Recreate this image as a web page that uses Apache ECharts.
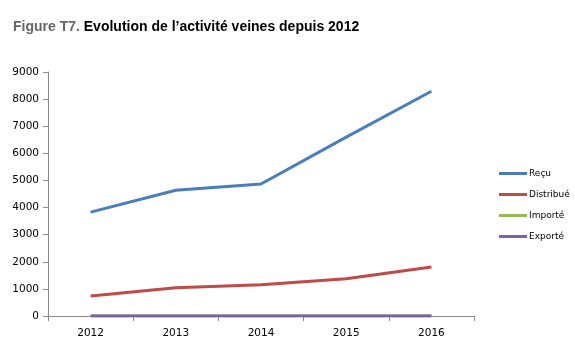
<!DOCTYPE html>
<html>
<head>
<meta charset="utf-8">
<script src="https://cdn.jsdelivr.net/npm/echarts@6/dist/echarts.min.js"></script>
<style>
  html, body { margin: 0; padding: 0; background: #fff; }
  #chart { width: 575px; height: 350px; }
</style>
</head>
<body>
<div id="chart"></div>
<script>
// données
var years = ['2012', '2013', '2014', '2015', '2016'];
var recu = [3830, 4640, 4870, 6600, 8290];
var distribue = [740, 1040, 1150, 1370, 1810];
var importe = [0, 0, 0, 0, 0];
var exporte = [0, 0, 0, 0, 0];

var chart = echarts.init(document.getElementById('chart'));

function serie(name, data, color) {
  return {
    name: name, type: 'line', data: data, symbol: 'none',
    lineStyle: { color: color, width: 3 }, itemStyle: { color: color }
  };
}

chart.setOption({
  animation: false,
  title: {
    text: '{g|Figure T7.} Evolution de l\u2019activité veines depuis 2012',
    left: 13, top: 20, padding: 0,
    textStyle: {
      fontFamily: 'Liberation Sans', fontSize: 14, fontWeight: 'bold', color: '#000',
      rich: { g: { fontFamily: 'Liberation Sans', fontSize: 14, fontWeight: 'bold', color: '#666' } }
    }
  },
  grid: { left: 48, right: 101, top: 72, bottom: 34 },
  legend: {
    orient: 'vertical', left: 494, top: 164, itemGap: 12,
    itemWidth: 28, itemHeight: 3,
    icon: 'rect',
    textStyle: { fontFamily: 'DejaVu Sans', fontSize: 9, color: '#000', padding: [0, 0, 0, -3] },
    data: ['Reçu', 'Distribué', 'Importé', 'Exporté']
  },
  xAxis: {
    type: 'category', data: years, boundaryGap: true,
    axisLine: { lineStyle: { color: '#888', width: 1 } },
    axisTick: { show: true, length: 5, lineStyle: { color: '#888' } },
    axisLabel: { fontFamily: 'DejaVu Sans', fontSize: 10.5, color: '#000', margin: 12 }
  },
  yAxis: {
    type: 'value', min: 0, max: 9000, interval: 1000,
    axisLine: { show: true, lineStyle: { color: '#888', width: 1 } },
    axisTick: { show: true, length: 5, lineStyle: { color: '#888' } },
    splitLine: { show: false },
    axisLabel: {
      fontFamily: 'DejaVu Sans', fontSize: 10.5, color: '#000', margin: 9,
      formatter: function (v) { return String(v); }
    }
  },
  series: [
    serie('Reçu', recu, '#4A7EBB'),
    serie('Distribué', distribue, '#BE4B48'),
    serie('Importé', importe, '#98B954'),
    serie('Exporté', exporte, '#7D60A0')
  ]
});
</script>
</body>
</html>
